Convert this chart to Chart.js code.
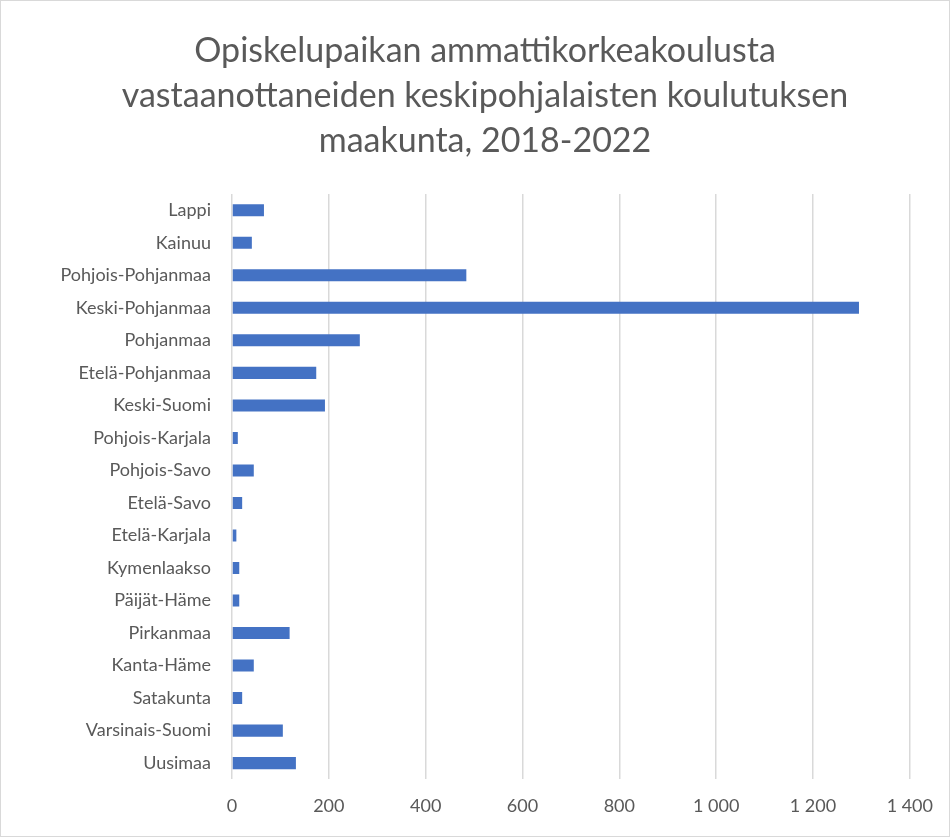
<!DOCTYPE html>
<html>
<head>
<meta charset="utf-8">
<script src="https://cdn.jsdelivr.net/npm/chart.js@4"></script>
<style>
  body { margin: 0; background: #fff; }
  #wrap { width: 948px; height: 835px; border: 1px solid #d9d9d9; }
</style>
</head>
<body>
<div id="wrap"><canvas id="chart" width="948" height="835"></canvas></div>
<script>
// Maakunnat ylhäältä alas kuten kuvassa
const maakunnat = [
    'Lappi', 'Kainuu', 'Pohjois-Pohjanmaa', 'Keski-Pohjanmaa', 'Pohjanmaa',
    'Etelä-Pohjanmaa', 'Keski-Suomi', 'Pohjois-Karjala', 'Pohjois-Savo',
    'Etelä-Savo', 'Etelä-Karjala', 'Kymenlaakso', 'Päijät-Häme', 'Pirkanmaa',
    'Kanta-Häme', 'Satakunta', 'Varsinais-Suomi', 'Uusimaa'
];
const vastaanotetut = [66, 41, 484, 1295, 264, 174, 192, 12, 45, 21, 9, 15, 15, 119, 45, 21, 105, 132];

const otsikko = [
    'Opiskelupaikan ammattikorkeakoulusta',
    'vastaanottaneiden keskipohjalaisten koulutuksen',
    'maakunta, 2018-2022'
];
const xMin = 0, xMax = 1400, xStep = 200;

const tekstiVari = '#595959';
const fontti = 'Lato, "Open Sans", sans-serif';

// Tuhaterotin välilyönnillä (1 000)
function muotoile(v) {
    return String(v).replace(/\B(?=(\d{3})+(?!\d))/g, ' ');
}

// Otsikko piirretään itse, jotta se keskittyy kuten Excelissä
const otsikkoPlugin = {
    id: 'otsikko',
    afterDraw(chart) {
        const c = chart.ctx;
        c.save();
        c.fillStyle = tekstiVari;
        c.font = '34px ' + fontti;
        c.textAlign = 'center';
        c.textBaseline = 'middle';
        otsikko.forEach((rivi, i) => c.fillText(rivi, 484, 50 + i * 45));
        c.restore();
    }
};

const ctx = document.getElementById('chart').getContext('2d');
new Chart(ctx, {
    type: 'bar',
    data: {
        labels: maakunnat,
        datasets: [{
            data: vastaanotetut,
            backgroundColor: '#4472C4',
            categoryPercentage: 1,
            barPercentage: 0.37
        }]
    },
    options: {
        indexAxis: 'y',
        responsive: false,
        animation: false,
        layout: { padding: { left: 0, right: 30, top: 193, bottom: 3 } },
        plugins: {
            legend: { display: false },
            tooltip: { enabled: false },
            title: { display: false }
        },
        scales: {
            x: {
                min: xMin,
                max: xMax,
                ticks: {
                    stepSize: xStep,
                    color: tekstiVari,
                    font: { family: fontti, size: 18 },
                    padding: 16,
                    callback: v => muotoile(v)
                },
                grid: { color: '#d9d9d9', lineWidth: 1.5, drawTicks: false },
                border: { display: false }
            },
            y: {
                ticks: {
                    color: tekstiVari,
                    font: { family: fontti, size: 18 },
                    padding: 13
                },
                grid: { display: false },
                border: { display: false },
                afterFit: s => { s.width = 231; }
            }
        }
    },
    plugins: [otsikkoPlugin]
});
</script>
</body>
</html>
